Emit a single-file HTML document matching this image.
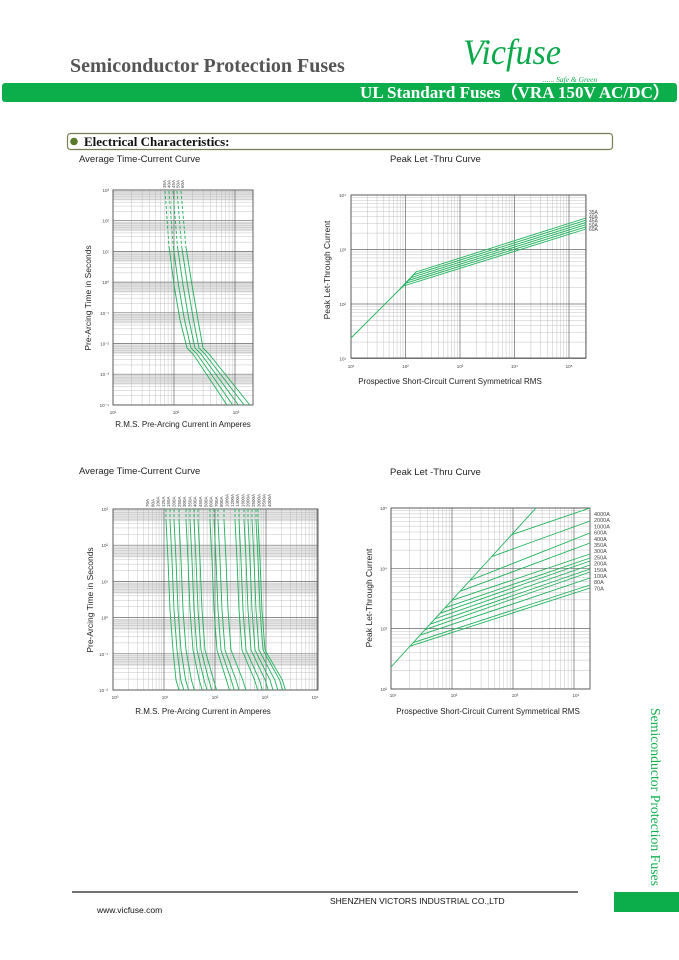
<!DOCTYPE html>
<html><head><meta charset="utf-8"><style>
body{margin:0;background:#fff;width:679px;height:960px;overflow:hidden}
svg{display:block}
</style></head><body>
<svg id="s" width="679" height="960" xmlns="http://www.w3.org/2000/svg" font-family="Liberation Sans, sans-serif">
<text x="70" y="72" font-family="Liberation Serif, serif" font-weight="bold" font-size="20" fill="#555">Semiconductor Protection Fuses</text>
<text x="463" y="64" font-family="Liberation Serif, serif" font-style="italic" font-size="36" fill="#0aa84a" textLength="98" lengthAdjust="spacingAndGlyphs">Vicfuse</text>
<text x="543" y="82" font-family="Liberation Serif, serif" font-style="italic" font-size="7.5" fill="#0aa84a">...... Safe &amp; Green</text>
<rect x="2" y="83" width="675" height="19" rx="3" fill="#0cae4c"/>
<text x="670" y="98" text-anchor="end" font-family="Liberation Serif, serif" font-weight="bold" font-size="16.5" fill="#fff" textLength="310" lengthAdjust="spacingAndGlyphs">UL Standard Fuses（VRA 150V AC/DC）</text>
<rect x="67.5" y="133.5" width="545" height="16" rx="3" fill="none" stroke="#7c7c52" stroke-width="1.2"/>
<circle cx="74" cy="141.5" r="3.8" fill="#5a7a2a"/>
<text x="84" y="146" font-family="Liberation Serif, serif" font-weight="bold" font-size="13" fill="#111">Electrical Characteristics:</text>
<text x="79" y="162" font-size="9.5" fill="#222">Average Time-Current Curve</text>
<text x="390" y="162" font-size="9.5" fill="#222">Peak Let -Thru Curve</text>
<text x="79" y="474" font-size="9.5" fill="#222">Average Time-Current Curve</text>
<text x="390" y="475" font-size="9.5" fill="#222">Peak Let -Thru Curve</text>
<text x="183" y="427" text-anchor="middle" font-size="8" fill="#222">R.M.S. Pre-Arcing Current in Amperes</text>
<text x="450" y="384" text-anchor="middle" font-size="8" fill="#222">Prospective Short-Circuit Current Symmetrical RMS</text>
<text x="203" y="714" text-anchor="middle" font-size="8" fill="#222">R.M.S. Pre-Arcing Current in Amperes</text>
<text x="488" y="714" text-anchor="middle" font-size="8" fill="#222">Prospective Short-Circuit Current Symmetrical RMS</text>
<text transform="translate(91,298) rotate(-90)" text-anchor="middle" font-size="8.5" fill="#222">Pre-Arcing Time in Seconds</text>
<text transform="translate(330,270) rotate(-90)" text-anchor="middle" font-size="8.5" fill="#222">Peak Let-Through Current</text>
<text transform="translate(93,600) rotate(-90)" text-anchor="middle" font-size="8.5" fill="#222">Pre-Arcing Time in Seconds</text>
<text transform="translate(372,598) rotate(-90)" text-anchor="middle" font-size="8.5" fill="#222">Peak Let-Through Current</text>
<line x1="72" y1="892" x2="578" y2="892" stroke="#444" stroke-width="1.5"/>
<text x="330" y="904" font-size="8.5" fill="#111">SHENZHEN VICTORS INDUSTRIAL CO.,LTD</text>
<text x="97" y="913" font-size="8.5" fill="#111">www.vicfuse.com</text>
<text transform="translate(651,708) rotate(90)" font-family="Liberation Serif, serif" font-size="14" fill="#14b050" textLength="178" lengthAdjust="spacingAndGlyphs">Semiconductor Protection Fuses</text>
<rect x="614" y="892" width="65" height="20" fill="#0cae4c"/>
<g id="g"></g>
</svg>
<script>
var g=document.getElementById('g'),h='';
function L(x1,y1,x2,y2,c,w,d){h+='<line x1="'+x1+'" y1="'+y1+'" x2="'+x2+'" y2="'+y2+'" stroke="'+c+'" stroke-width="'+w+'"'+(d?' stroke-dasharray="'+d+'"':'')+'/>';}
function T(x,y,s,fs,a){h+='<text x="'+x+'" y="'+y+'" font-size="'+(fs||4.5)+'" fill="#444"'+(a?' text-anchor="'+a+'"':'')+'>'+s+'</text>';}
function grid(x0,x1,xd,y0,y1,yd,band){
 var nd=Math.round((y1-y0)/yd);
 for(var d=0;d<nd;d++){var top=y0+d*yd;
  if(band) h+='<rect x="'+x0+'" y="'+(top+yd*0.04)+'" width="'+(x1-x0)+'" height="'+(yd*0.3)+'" fill="#e6e6e6"/>';
  for(var k=2;k<=9;k++){var y=top+yd*(1-Math.log10(k));L(x0,y,x1,y,'#aaa',0.35);}
 }
 for(var x=x0;x<=x1+0.5;x+=xd){for(var k=1;k<=9;k++){var xx=x+xd*Math.log10(k);if(xx<=x1)L(xx,y0,xx,y1,k==1?'#666':'#aaa',k==1?0.7:0.35);}}
 for(var d=0;d<=nd;d++){var y=y0+d*yd;L(x0,y,x1,y,'#666',0.7);}
 h+='<rect x="'+x0+'" y="'+y0+'" width="'+(x1-x0)+'" height="'+(y1-y0)+'" fill="none" stroke="#555" stroke-width="0.9"/>';
}
function P(pts,d){h+='<polyline points="'+pts.map(function(p){return p.join(',')}).join(' ')+'" fill="none" stroke="#1db25a" stroke-width="0.9"'+(d?' stroke-dasharray="'+d+'"':'')+'/>';}
// chart1
grid(113,253,61,190,405,30.7,true);
var yl1=['10³','10²','10¹','10⁰','10⁻¹','10⁻²','10⁻³','10⁻⁴'];
for(var i=0;i<8;i++)T(109,190+i*30.7+2,yl1[i],4.5,'end');
T(113,414,'10¹',4.5,'middle');T(176,414,'10²',4.5,'middle');T(236,414,'10³',4.5,'middle');
var lab1=['35A','40A','45A','50A','60A'];
for(var i=0;i<5;i++){
 P([[165+i*4,191],[169+i*4.2,246]],'3,2');
 P([[169+i*4.2,246],[174+i*4.5,285],[180+i*4.5,320],[187+i*4,348],[193+i*4,354],[227+i*5.7,405]]);
 h+='<text transform="translate('+(166+i*4.5)+',188) rotate(-90)" font-size="4.5" fill="#444">'+lab1[i]+'</text>';
}
// chart2
grid(351,586,54.5,195,358,54.5,false);
var yl2=['10⁴','10³','10²','10¹'];for(var i=0;i<4;i++)T(346,195+i*54.5+2,yl2[i],4.5,'end');
var xl2=['10¹','10²','10³','10⁴','10⁵'];for(var i=0;i<5;i++)T(351+i*54.5,368,xl2[i],4.5,'middle');
P([[351,338],[400,289]]);
for(var i=0;i<6;i++){var ey=218+i*2.2,by=272+i*2.8,bx=416-i*2.5;P([[400,289],[bx,by],[586,ey]]);}
var lab2=['35A','40A','45A','50A','60A'];for(var i=0;i<5;i++)T(589,214+i*4.3,lab2[i],5);
// chart3
grid(113,318,51,509,690,36.2,true);
var yl3=['10³','10²','10¹','10⁰','10⁻¹','10⁻²'];for(var i=0;i<6;i++)T(108,509+i*36.2+2,yl3[i],4.5,'end');
for(var i=0;i<5;i++)T(115+i*50,699,'10'+['⁰','¹','²','³','⁴'][i],4.5,'middle');
var tops=[166,170,174,179,186,190,194,198,210,214,218,224,235,239,244,248,252,256,258];
var lab3=['70A','80A','100A','125A','150A','200A','250A','300A','350A','400A','450A','500A','600A','700A','800A','1000A','1200A','1400A','1600A','2000A','2500A','3000A','3500A','4000A'];
for(var i=0;i<tops.length;i++){var t=tops[i],sp=4+i*0.8;
 P([[t,509],[t,520]],'3,2');
 P([[t,520],[t+2,560],[t+4,610],[t+7,650],[t+sp+6,680],[t+sp+9,690]]);}
for(var i=0;i<lab3.length;i++)h+='<text transform="translate('+(149+i*5.3)+',507) rotate(-90)" font-size="4.5" fill="#444">'+lab3[i]+'</text>';
// chart4
grid(391,590,61,508,689,60.3,false);
var yl4=['10⁵','10⁴','10³','10²'];for(var i=0;i<4;i++)T(387,508+i*60.3+2,yl4[i],4.5,'end');
for(var i=0;i<4;i++)T(393+i*61,697,'10'+['¹','²','³','⁴'][i],4.5,'middle');
P([[391,667],[536,508]]);
function sy(x){return 667-(x-391)*(159/145);}
var bxz=[455,395,330,300,275,255,240,225,210,195,180,160,150],ey4=[508,521,533,543,554,558,561,565,569,572,578,585,588];
for(var i=0;i<13;i++){var bx=360+bxz[i]/3;P([[bx,sy(bx)],[590,ey4[i]]]);}
var lab4=['4000A','2000A','1000A','600A','400A','350A','300A','250A','200A','150A','100A','80A','70A'];
for(var i=0;i<13;i++)T(594,516+i*6.2,lab4[i],5.5);
g.innerHTML=h;
</script>
</body></html>
